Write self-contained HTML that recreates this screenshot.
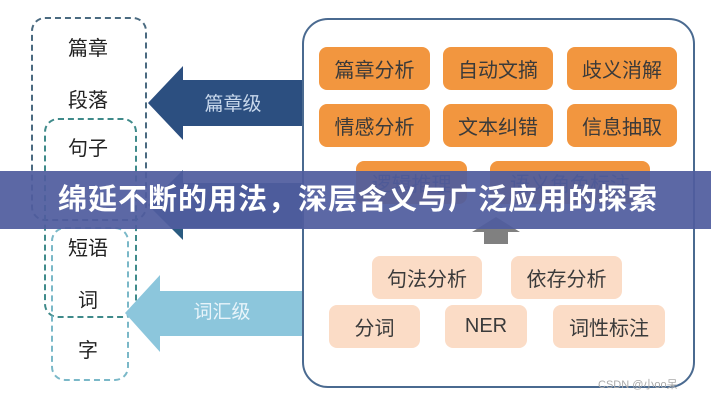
<!DOCTYPE html>
<html><head><meta charset="utf-8"><style>
body{margin:0;width:711px;height:400px;background:#fff;position:relative;overflow:hidden;font-family:"Liberation Sans","Noto Sans CJK SC",sans-serif}
.a{position:absolute}
.lbl{position:absolute;left:58px;width:60px;text-align:center;font-size:20px;color:#222}
.b{position:absolute;border-radius:8px;display:flex;align-items:center;justify-content:center;font-size:20px;color:#3a3a3a}
.o{background:#f2963f}
.p{background:#fbdcc6}
</style></head><body>
<div class="a" style="left:31px;top:17px;width:112px;height:200px;border:2px dashed #4a6a80;border-radius:14px"></div>
<div class="a" style="left:44px;top:118px;width:89px;height:196px;border:2px dashed #3f8a8a;border-radius:14px"></div>
<div class="a" style="left:51px;top:227px;width:74px;height:150px;border:2px dashed #7ab8c8;border-radius:14px"></div>
<div class="lbl" style="top:32px">篇章</div>
<div class="lbl" style="top:84px">段落</div>
<div class="lbl" style="top:132px">句子</div>
<div class="lbl" style="top:232px">短语</div>
<div class="lbl" style="top:284px">词</div>
<div class="lbl" style="top:334px">字</div>
<svg class="a" style="left:0;top:0" width="711" height="400">
<polygon points="148,103 183,66 183,80 302,80 302,126 183,126 183,140" fill="#2c4f80"/>
<polygon points="148,205 183,170 183,183 302,183 302,228 183,228 183,240" fill="#2a5b80"/>
<polygon points="125,313 160,275 160,291 302,291 302,336 160,336 160,352" fill="#8cc6dc"/>
<text x="233" y="110" font-size="19" fill="#c8d8ec" text-anchor="middle" font-family="Liberation Sans,Noto Sans CJK SC,sans-serif">篇章级</text>
<text x="222" y="318" font-size="19" fill="#e8f4fa" text-anchor="middle" font-family="Liberation Sans,Noto Sans CJK SC,sans-serif">词汇级</text>
<polygon points="496,217 520,232 508,232 508,244 484,244 484,232 472,232" fill="#808080"/>
</svg>
<div class="a" style="left:302px;top:18px;width:389px;height:366px;border:2px solid #4a6a90;border-radius:26px"></div>
<div class="b o" style="left:319px;top:47px;width:111px;height:43px">篇章分析</div>
<div class="b o" style="left:443px;top:47px;width:110px;height:43px">自动文摘</div>
<div class="b o" style="left:567px;top:47px;width:110px;height:43px">歧义消解</div>
<div class="b o" style="left:319px;top:104px;width:111px;height:43px">情感分析</div>
<div class="b o" style="left:443px;top:104px;width:110px;height:43px">文本纠错</div>
<div class="b o" style="left:567px;top:104px;width:110px;height:43px">信息抽取</div>
<div class="b o" style="left:356px;top:161px;width:111px;height:43px">逻辑推理</div>
<div class="b o" style="left:490px;top:161px;width:160px;height:43px">语义角色标注</div>
<div class="b p" style="left:372px;top:256px;width:110px;height:43px">句法分析</div>
<div class="b p" style="left:511px;top:256px;width:111px;height:43px">依存分析</div>
<div class="b p" style="left:329px;top:305px;width:91px;height:43px">分词</div>
<div class="b p" style="left:445px;top:305px;width:82px;height:43px">NER</div>
<div class="b p" style="left:553px;top:305px;width:112px;height:43px">词性标注</div>
<div class="a" style="left:598px;top:376px;font-size:11px;color:#aaa">CSDN @小oo呆</div>
<div class="a" style="left:0;top:171px;width:711px;height:58px;background:rgba(80,92,158,0.93)"></div>
<div class="a" style="left:58px;top:171px;height:58px;line-height:58px;white-space:nowrap;color:#fff;font-size:29px;letter-spacing:1px;font-weight:bold;font-family:'Liberation Sans','Noto Sans CJK SC',sans-serif">绵延不断的用法，深层含义与广泛应用的探索</div>
</body></html>
